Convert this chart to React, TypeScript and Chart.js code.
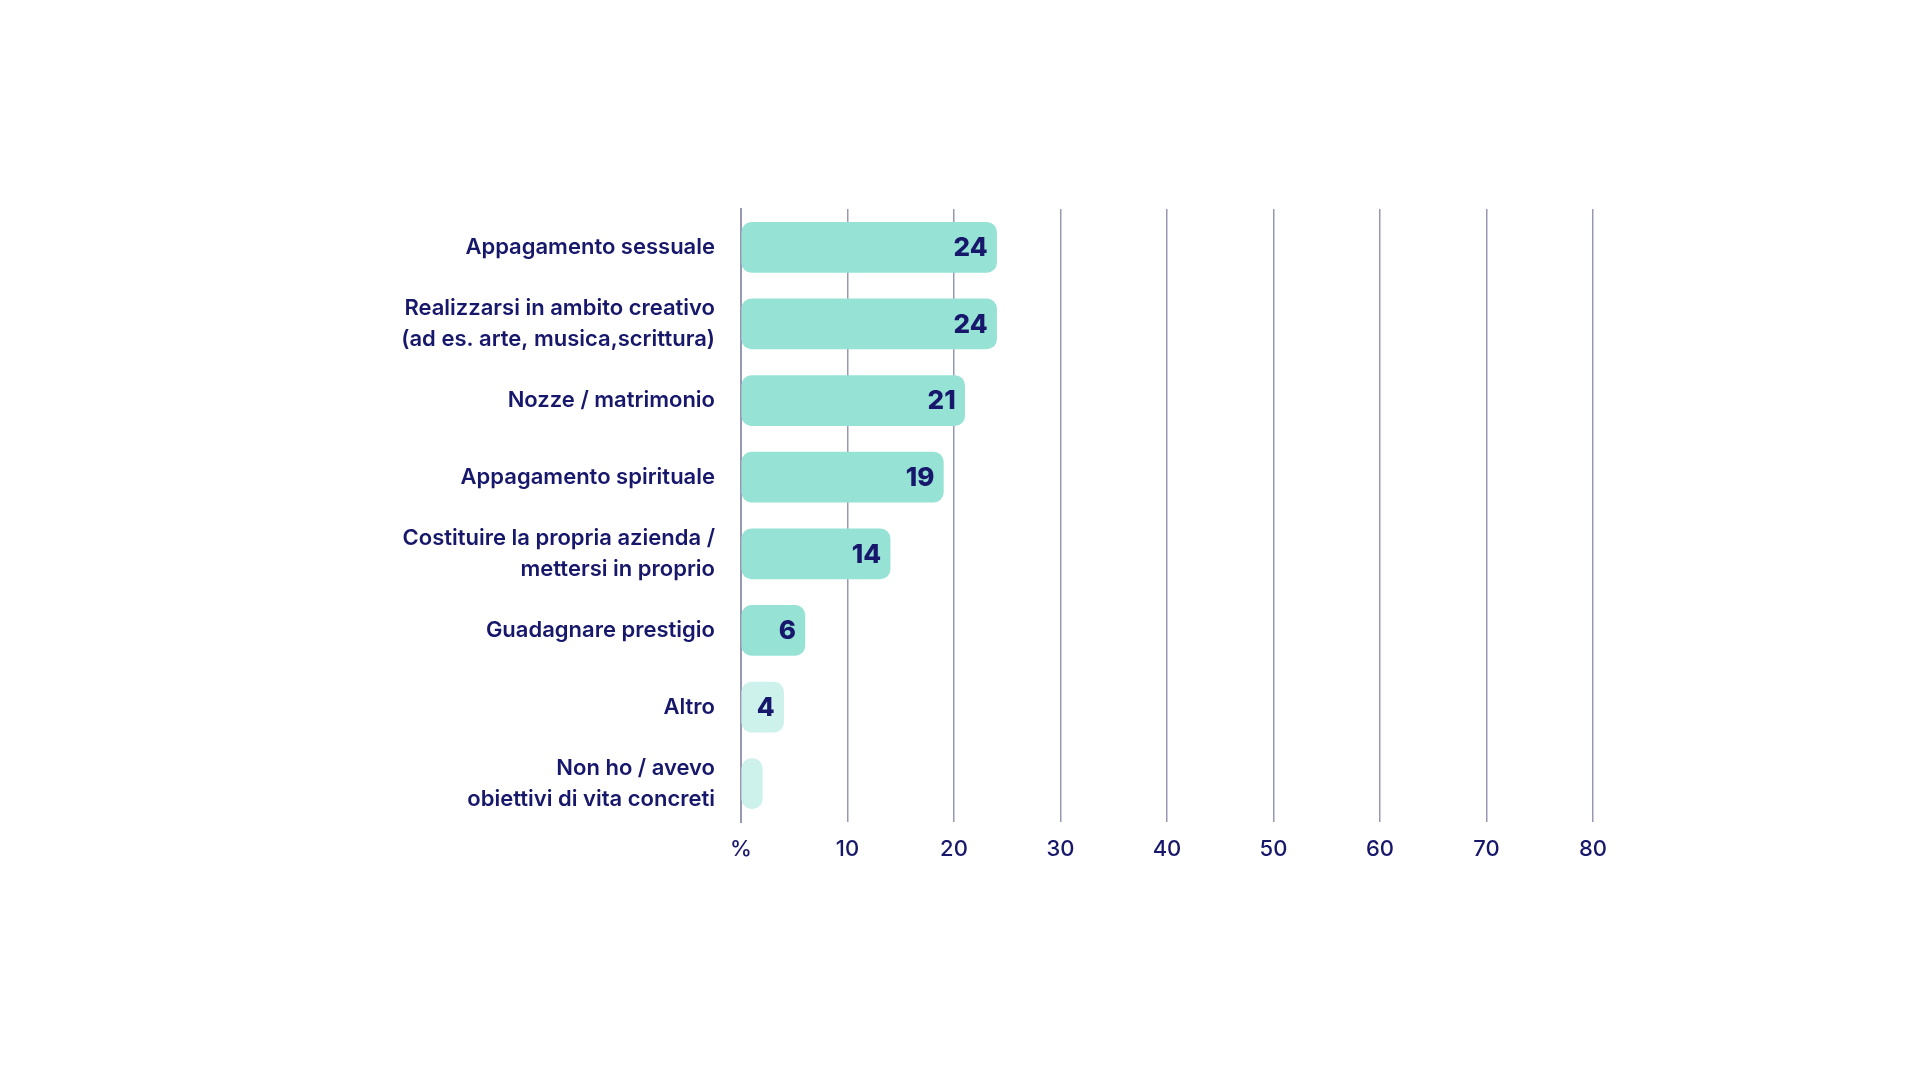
import React, { useEffect, useRef } from "react";
import { Chart, registerables } from "chart.js";

Chart.register(...registerables);

const categories: (string | string[])[] = [
  "Appagamento sessuale",
  ["Realizzarsi in ambito creativo", "(ad es. arte, musica,scrittura)"],
  "Nozze / matrimonio",
  "Appagamento spirituale",
  ["Costituire la propria azienda /", "mettersi in proprio"],
  "Guadagnare prestigio",
  "Altro",
  ["Non ho / avevo", "obiettivi di vita concreti"],
];
const values: number[] = [24, 24, 21, 19, 14, 6, 4, 2];
const valueLabels: string[] = ["24", "24", "21", "19", "14", "6", "4", ""];
const barColors: string[] = [
  "#96E2D4", "#96E2D4", "#96E2D4", "#96E2D4", "#96E2D4", "#96E2D4", "#CDF2EC", "#CDF2EC",
];
const xTickLabels: Record<number, string> = {
  0: "%", 10: "10", 20: "20", 30: "30", 40: "40", 50: "50", 60: "60", 70: "70", 80: "80",
};

const NAVY = "#17176B";
const GRID = "#9799B4";
const FONT = "Inter, 'Noto Sans', sans-serif";

const valueLabelPlugin = {
  id: "valueLabels",
  afterDatasetsDraw(chart: any) {
    const ctx = chart.ctx;
    const meta = chart.getDatasetMeta(0);
    ctx.save();
    ctx.font = `800 26px ${FONT}`;
    ctx.fillStyle = NAVY;
    ctx.textAlign = "right";
    ctx.textBaseline = "middle";
    meta.data.forEach((bar: any, i: number) => {
      const label = valueLabels[i];
      if (!label) return;
      ctx.fillText(label, bar.x - 9, bar.y + 1);
    });
    ctx.restore();
  },
};

export default function App() {
  const canvasRef = useRef<HTMLCanvasElement | null>(null);

  useEffect(() => {
    if (!canvasRef.current) return;
    const chart = new Chart(canvasRef.current, {
      type: "bar",
      data: {
        labels: categories as any,
        datasets: [
          {
            data: values,
            backgroundColor: barColors,
            borderRadius: 10,
            borderSkipped: false,
            barThickness: 50,
          },
        ],
      },
      options: {
        indexAxis: "y",
        animation: false,
        responsive: true,
        maintainAspectRatio: false,
        layout: { padding: { left: 0, right: 327, top: 209, bottom: 198 } },
        plugins: {
          legend: { display: false },
          tooltip: { enabled: false },
        },
        scales: {
          x: {
            min: 0,
            max: 80,
            afterFit: (scale: any) => {
              scale.height = 60;
            },
            ticks: {
              stepSize: 10,
              padding: 14,
              color: NAVY,
              font: { family: FONT, size: 22, weight: "500" as any },
              callback: (v: any) => xTickLabels[Number(v)] ?? "",
            },
            grid: { color: GRID, lineWidth: 1.5, drawTicks: false },
            border: { display: false },
          },
          y: {
            z: 1,
            afterFit: (scale: any) => {
              scale.width = 741;
            },
            ticks: {
              padding: 26,
              color: NAVY,
              font: { family: FONT, size: 22, weight: "600" as any, lineHeight: 1.4 },
            },
            grid: { display: false, drawTicks: false },
            border: { display: true, color: GRID, width: 2 },
          },
        },
      },
      plugins: [valueLabelPlugin],
    });
    return () => chart.destroy();
  }, []);

  return (
    <div
      style={{
        position: "fixed",
        left: 0,
        top: 0,
        width: 1920,
        height: 1080,
        background: "#ffffff",
      }}
    >
      <canvas ref={canvasRef} style={{ width: "100%", height: "100%" }} />
    </div>
  );
}
